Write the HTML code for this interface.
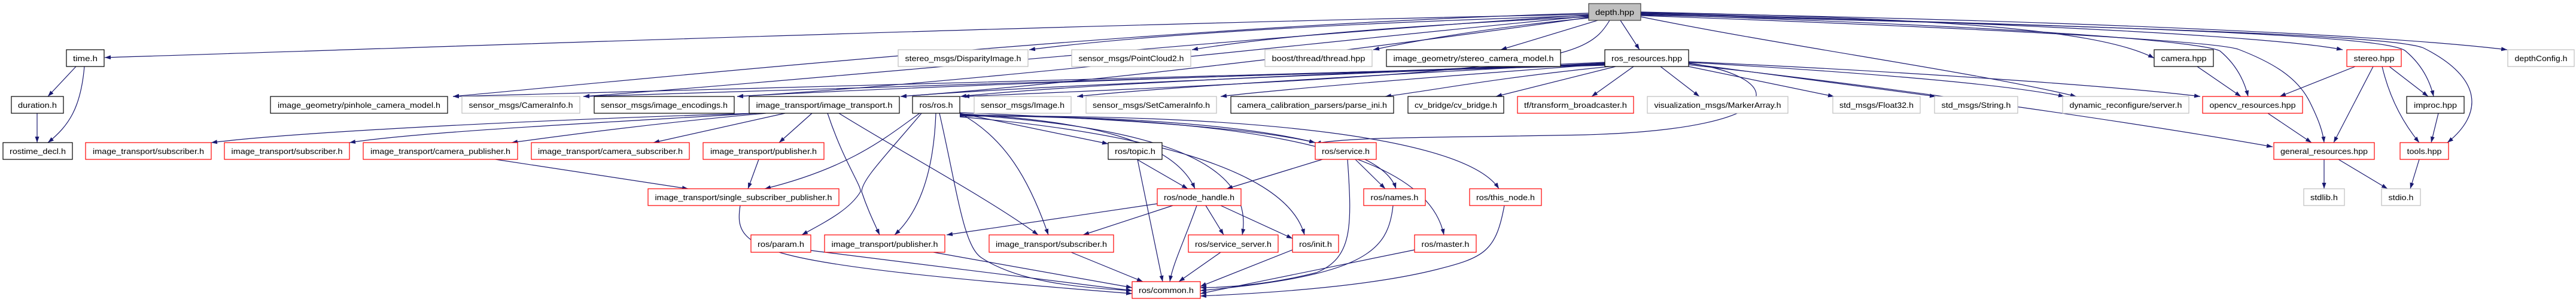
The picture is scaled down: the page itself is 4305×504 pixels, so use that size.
<!DOCTYPE html>
<html><head><meta charset="utf-8"><style>
html,body{margin:0;padding:0;background:#fff;}
svg{display:block;}
text{font-family:"Liberation Sans",sans-serif;font-size:12.5px;fill:#000;}
.e{fill:none;stroke:#191970;stroke-width:1.2;marker-end:url(#a);}
.k{fill:#fff;stroke:#000;stroke-width:1.2;}
.r{fill:#fff;stroke:#ff0000;stroke-width:1.2;}
.g{fill:#fff;stroke:#bfbfbf;stroke-width:1.2;}
</style></head><body>
<svg width="4305" height="504" viewBox="0 0 4305 504" xmlns="http://www.w3.org/2000/svg">
<defs><marker id="a" markerUnits="userSpaceOnUse" markerWidth="11" markerHeight="8" refX="10" refY="3.5" orient="auto"><path d="M0,0 L10,3.5 L0,7 z" fill="#191970"/></marker></defs>
<g>
<path class="e" d="M2655 24 C1800 40 700 80 175 96"/>
<path class="e" d="M2655 26 C2200 40 1900 60 1720 83"/>
<path class="e" d="M2655 28 C2300 45 2100 65 1992 83"/>
<path class="e" d="M2655 30 C2500 45 2380 65 2295 83"/>
<path class="e" d="M2670 34 L2508 83"/>
<path class="e" d="M2708 34 L2740 83"/>
<path class="e" d="M2655 22 C2000 40 1200 120 757 161"/>
<path class="e" d="M2655 25 C2100 60 1400 130 975 161"/>
<path class="e" d="M2655 27 C2200 70 1600 140 1232 161"/>
<path class="e" d="M2655 29 C2300 80 1800 140 1505 161"/>
<path class="e" d="M2690 34 C2650 100 2600 120 1610 161"/>
<path class="e" d="M2742 20 C3200 30 3500 45 3600 97"/>
<path class="e" d="M2742 22 C3300 35 3800 60 3915 83"/>
<path class="e" d="M2742 21 C3500 35 4000 60 4190 83"/>
<path class="e" d="M2742 28 C3000 80 3300 120 3470 161"/>
<path class="e" d="M2742 24 C3400 45 3680 70 3710 85 C3740 110 3752 140 3757 161"/>
<path class="e" d="M2742 26 C3400 50 3700 70 3740 82 C3800 105 3840 130 3860 170 C3875 200 3882 220 3884 238"/>
<path class="e" d="M2742 23 C3600 45 3990 60 4020 85 C4050 110 4062 140 4067 161"/>
<path class="e" d="M2742 25 C3600 45 4000 60 4050 80 C4150 130 4150 190 4090 238"/>
<path class="e" d="M2682 104 C2300 120 1800 140 1605 161"/>
<path class="e" d="M2682 106 C2200 125 1700 145 1505 161"/>
<path class="e" d="M2682 107 C2100 125 1500 145 1232 161"/>
<path class="e" d="M2682 108 C2000 128 1300 148 975 161"/>
<path class="e" d="M2682 109 C1900 130 1100 150 757 161"/>
<path class="e" d="M2682 105 C2300 125 1950 145 1800 161"/>
<path class="e" d="M2682 107 C2400 128 2150 148 2040 161"/>
<path class="e" d="M2690 111 C2500 130 2400 150 2315 161"/>
<path class="e" d="M2700 111 L2500 161"/>
<path class="e" d="M2730 111 L2660 161"/>
<path class="e" d="M2775 111 L2840 161"/>
<path class="e" d="M2822 111 L3065 161"/>
<path class="e" d="M2822 106 L3235 161"/>
<path class="e" d="M2822 104 C3100 120 3350 140 3450 161"/>
<path class="e" d="M2822 103 C3200 120 3550 145 3677 161"/>
<path class="e" d="M2822 108 C3200 150 3600 210 3798 245"/>
<path class="e" d="M2822 105 C2990 130 3000 215 2650 225 C2400 230 2250 228 2198 240"/>
<path class="e" d="M1262 189 C900 200 500 220 353 238"/>
<path class="e" d="M1266 189 C1000 205 700 220 584 238"/>
<path class="e" d="M1280 189 C1100 205 950 225 855 238"/>
<path class="e" d="M1312 189 L1092 238"/>
<path class="e" d="M1357 189 L1302 238"/>
<path class="e" d="M1383 189 C1410 270 1440 310 1438 320 C1420 350 1380 370 1340 392"/>
<path class="e" d="M1402 189 C1500 250 1650 330 1735 392"/>
<path class="e" d="M828 266 L1150 315"/>
<path class="e" d="M1268 266 L1250 315"/>
<path class="e" d="M1237 343 C1225 420 1260 440 1892 490"/>
<path class="e" d="M1537 189 C1480 230 1420 280 1278 315"/>
<path class="e" d="M1540 189 C1480 260 1440 300 1440 320 C1450 350 1460 370 1470 392"/>
<path class="e" d="M1564 189 C1560 300 1530 360 1495 392"/>
<path class="e" d="M1604 189 C1680 230 1720 300 1752 392"/>
<path class="e" d="M1570 189 C1600 320 1610 410 1640 430 C1700 470 1800 480 1892 485"/>
<path class="e" d="M1604 189 L1852 240"/>
<path class="e" d="M1604 190 C1800 200 1960 230 1997 315"/>
<path class="e" d="M1604 191 C1900 210 2100 260 2076 392"/>
<path class="e" d="M1604 188 C1900 200 2100 215 2198 238"/>
<path class="e" d="M1604 192 C1900 195 2300 210 2333 315"/>
<path class="e" d="M1604 193 C2000 195 2380 230 2413 392"/>
<path class="e" d="M1604 194 C2100 190 2450 230 2505 315"/>
<path class="e" d="M1604 195 C1900 220 2150 280 2180 392"/>
<path class="e" d="M1900 266 L1985 315"/>
<path class="e" d="M1901 266 L1943 470"/>
<path class="e" d="M1934 340 L1582 392"/>
<path class="e" d="M1960 343 L1810 392"/>
<path class="e" d="M2000 343 C1980 400 1960 440 1955 470"/>
<path class="e" d="M2015 343 L2045 392"/>
<path class="e" d="M2040 343 L2160 398"/>
<path class="e" d="M2210 266 L2050 315"/>
<path class="e" d="M2265 266 L2315 315"/>
<path class="e" d="M2252 266 C2260 380 2260 430 2200 455 C2120 475 2050 480 2006 480"/>
<path class="e" d="M2328 343 C2320 420 2280 460 2006 485"/>
<path class="e" d="M2364 417 L2006 490"/>
<path class="e" d="M2514 343 C2500 420 2480 430 2400 450 C2300 475 2150 488 2006 494"/>
<path class="e" d="M2165 415 L2006 478"/>
<path class="e" d="M2040 421 L1970 470"/>
<path class="e" d="M1355 418 L1892 485"/>
<path class="e" d="M1560 421 L1892 480"/>
<path class="e" d="M1790 421 L1910 470"/>
<path class="e" d="M127 111 L80 161"/>
<path class="e" d="M141 111 C135 180 115 210 80 238"/>
<path class="e" d="M62 189 L62 238"/>
<path class="e" d="M3672 111 L3745 161"/>
<path class="e" d="M3936 111 L3810 161"/>
<path class="e" d="M3966 111 L3900 238"/>
<path class="e" d="M3981 111 C3995 170 4020 210 4043 238"/>
<path class="e" d="M3993 111 L4058 161"/>
<path class="e" d="M4075 189 L4063 238"/>
<path class="e" d="M3790 189 L3863 238"/>
<path class="e" d="M3884 266 L3884 315"/>
<path class="e" d="M3908 266 L3990 315"/>
<path class="e" d="M4043 266 L4028 315"/>
</g>
<g>
<rect x="2655" y="6" width="87" height="28" fill="#bfbfbf" stroke="#404040" stroke-width="1.2"/><text x="2698.5" y="25" text-anchor="middle" textLength="65" lengthAdjust="spacingAndGlyphs">depth.hpp</text>
<rect class="k" x="111" y="83" width="63" height="28"/><text x="142.5" y="102" text-anchor="middle" textLength="41" lengthAdjust="spacingAndGlyphs">time.h</text>
<rect class="k" x="19" y="161" width="87" height="28"/><text x="62.5" y="180" text-anchor="middle" textLength="65" lengthAdjust="spacingAndGlyphs">duration.h</text>
<rect class="k" x="5" y="238" width="116" height="28"/><text x="63" y="257" text-anchor="middle" textLength="94" lengthAdjust="spacingAndGlyphs">rostime_decl.h</text>
<rect class="k" x="452" y="161" width="296" height="28"/><text x="600" y="180" text-anchor="middle" textLength="272" lengthAdjust="spacingAndGlyphs">image_geometry/pinhole_camera_model.h</text>
<rect class="r" x="143" y="238" width="210" height="28"/><text x="248" y="257" text-anchor="middle" textLength="186" lengthAdjust="spacingAndGlyphs">image_transport/subscriber.h</text>
<rect class="r" x="375" y="238" width="209" height="28"/><text x="479.5" y="257" text-anchor="middle" textLength="186" lengthAdjust="spacingAndGlyphs">image_transport/subscriber.h</text>
<rect class="r" x="607" y="238" width="258" height="28"/><text x="736" y="257" text-anchor="middle" textLength="234" lengthAdjust="spacingAndGlyphs">image_transport/camera_publisher.h</text>
<rect class="g" x="772" y="161" width="197" height="28"/><text x="870.5" y="180" text-anchor="middle" textLength="174" lengthAdjust="spacingAndGlyphs">sensor_msgs/CameraInfo.h</text>
<rect class="k" x="993" y="161" width="234" height="28"/><text x="1110" y="180" text-anchor="middle" textLength="212" lengthAdjust="spacingAndGlyphs">sensor_msgs/image_encodings.h</text>
<rect class="k" x="1252" y="161" width="251" height="28"/><text x="1377.5" y="180" text-anchor="middle" textLength="228" lengthAdjust="spacingAndGlyphs">image_transport/image_transport.h</text>
<rect class="r" x="888" y="238" width="264" height="28"/><text x="1020" y="257" text-anchor="middle" textLength="242" lengthAdjust="spacingAndGlyphs">image_transport/camera_subscriber.h</text>
<rect class="r" x="1175" y="238" width="202" height="28"/><text x="1276" y="257" text-anchor="middle" textLength="178" lengthAdjust="spacingAndGlyphs">image_transport/publisher.h</text>
<rect class="r" x="1083" y="315" width="319" height="28"/><text x="1242.5" y="334" text-anchor="middle" textLength="296" lengthAdjust="spacingAndGlyphs">image_transport/single_subscriber_publisher.h</text>
<rect class="r" x="1255" y="392" width="100" height="29"/><text x="1305" y="412" text-anchor="middle" textLength="78" lengthAdjust="spacingAndGlyphs">ros/param.h</text>
<rect class="r" x="1378" y="392" width="201" height="29"/><text x="1478.5" y="412" text-anchor="middle" textLength="178" lengthAdjust="spacingAndGlyphs">image_transport/publisher.h</text>
<rect class="g" x="1501" y="83" width="217" height="28"/><text x="1609.5" y="102" text-anchor="middle" textLength="194" lengthAdjust="spacingAndGlyphs">stereo_msgs/DisparityImage.h</text>
<rect class="g" x="1791" y="83" width="199" height="28"/><text x="1890.5" y="102" text-anchor="middle" textLength="176" lengthAdjust="spacingAndGlyphs">sensor_msgs/PointCloud2.h</text>
<rect class="g" x="2114" y="83" width="179" height="28"/><text x="2203.5" y="102" text-anchor="middle" textLength="156" lengthAdjust="spacingAndGlyphs">boost/thread/thread.hpp</text>
<rect class="k" x="1525" y="161" width="79" height="28"/><text x="1564.5" y="180" text-anchor="middle" textLength="56" lengthAdjust="spacingAndGlyphs">ros/ros.h</text>
<rect class="g" x="1628" y="161" width="162" height="28"/><text x="1709" y="180" text-anchor="middle" textLength="140" lengthAdjust="spacingAndGlyphs">sensor_msgs/Image.h</text>
<rect class="g" x="1815" y="161" width="218" height="28"/><text x="1924" y="180" text-anchor="middle" textLength="196" lengthAdjust="spacingAndGlyphs">sensor_msgs/SetCameraInfo.h</text>
<rect class="k" x="2057" y="161" width="272" height="28"/><text x="2193" y="180" text-anchor="middle" textLength="250" lengthAdjust="spacingAndGlyphs">camera_calibration_parsers/parse_ini.h</text>
<rect class="k" x="1852" y="238" width="90" height="28"/><text x="1897" y="257" text-anchor="middle" textLength="68" lengthAdjust="spacingAndGlyphs">ros/topic.h</text>
<rect class="r" x="1934" y="315" width="140" height="28"/><text x="2004" y="334" text-anchor="middle" textLength="118" lengthAdjust="spacingAndGlyphs">ros/node_handle.h</text>
<rect class="r" x="1653" y="392" width="208" height="29"/><text x="1757" y="412" text-anchor="middle" textLength="186" lengthAdjust="spacingAndGlyphs">image_transport/subscriber.h</text>
<rect class="r" x="1986" y="392" width="150" height="29"/><text x="2061" y="412" text-anchor="middle" textLength="128" lengthAdjust="spacingAndGlyphs">ros/service_server.h</text>
<rect class="r" x="2160" y="392" width="77" height="29"/><text x="2198.5" y="412" text-anchor="middle" textLength="55" lengthAdjust="spacingAndGlyphs">ros/init.h</text>
<rect class="r" x="1892" y="470" width="114" height="28"/><text x="1949" y="489" text-anchor="middle" textLength="92" lengthAdjust="spacingAndGlyphs">ros/common.h</text>
<rect class="k" x="2317" y="83" width="291" height="28"/><text x="2462.5" y="102" text-anchor="middle" textLength="268" lengthAdjust="spacingAndGlyphs">image_geometry/stereo_camera_model.h</text>
<rect class="k" x="2682" y="83" width="140" height="28"/><text x="2752" y="102" text-anchor="middle" textLength="118" lengthAdjust="spacingAndGlyphs">ros_resources.hpp</text>
<rect class="k" x="2353" y="161" width="160" height="28"/><text x="2433" y="180" text-anchor="middle" textLength="138" lengthAdjust="spacingAndGlyphs">cv_bridge/cv_bridge.h</text>
<rect class="r" x="2536" y="161" width="194" height="28"/><text x="2633" y="180" text-anchor="middle" textLength="172" lengthAdjust="spacingAndGlyphs">tf/transform_broadcaster.h</text>
<rect class="g" x="2753" y="161" width="235" height="28"/><text x="2870.5" y="180" text-anchor="middle" textLength="212" lengthAdjust="spacingAndGlyphs">visualization_msgs/MarkerArray.h</text>
<rect class="r" x="2198" y="238" width="102" height="28"/><text x="2249" y="257" text-anchor="middle" textLength="80" lengthAdjust="spacingAndGlyphs">ros/service.h</text>
<rect class="r" x="2279" y="315" width="103" height="28"/><text x="2330.5" y="334" text-anchor="middle" textLength="80" lengthAdjust="spacingAndGlyphs">ros/names.h</text>
<rect class="r" x="2456" y="315" width="120" height="28"/><text x="2516" y="334" text-anchor="middle" textLength="98" lengthAdjust="spacingAndGlyphs">ros/this_node.h</text>
<rect class="r" x="2364" y="392" width="103" height="29"/><text x="2415.5" y="412" text-anchor="middle" textLength="80" lengthAdjust="spacingAndGlyphs">ros/master.h</text>
<rect class="g" x="3063" y="161" width="146" height="28"/><text x="3136" y="180" text-anchor="middle" textLength="124" lengthAdjust="spacingAndGlyphs">std_msgs/Float32.h</text>
<rect class="g" x="3233" y="161" width="139" height="28"/><text x="3302.5" y="180" text-anchor="middle" textLength="116" lengthAdjust="spacingAndGlyphs">std_msgs/String.h</text>
<rect class="g" x="3447" y="161" width="211" height="28"/><text x="3552.5" y="180" text-anchor="middle" textLength="188" lengthAdjust="spacingAndGlyphs">dynamic_reconfigure/server.h</text>
<rect class="k" x="3600" y="83" width="99" height="28"/><text x="3649.5" y="102" text-anchor="middle" textLength="76" lengthAdjust="spacingAndGlyphs">camera.hpp</text>
<rect class="r" x="3922" y="83" width="91" height="28"/><text x="3967.5" y="102" text-anchor="middle" textLength="68" lengthAdjust="spacingAndGlyphs">stereo.hpp</text>
<rect class="g" x="4191" y="83" width="111" height="28"/><text x="4246.5" y="102" text-anchor="middle" textLength="88" lengthAdjust="spacingAndGlyphs">depthConfig.h</text>
<rect class="r" x="3681" y="161" width="167" height="28"/><text x="3764.5" y="180" text-anchor="middle" textLength="144" lengthAdjust="spacingAndGlyphs">opencv_resources.hpp</text>
<rect class="k" x="4022" y="161" width="96" height="28"/><text x="4070" y="180" text-anchor="middle" textLength="72" lengthAdjust="spacingAndGlyphs">improc.hpp</text>
<rect class="r" x="3800" y="238" width="168" height="28"/><text x="3884" y="257" text-anchor="middle" textLength="146" lengthAdjust="spacingAndGlyphs">general_resources.hpp</text>
<rect class="r" x="4011" y="238" width="81" height="28"/><text x="4051.5" y="257" text-anchor="middle" textLength="58" lengthAdjust="spacingAndGlyphs">tools.hpp</text>
<rect class="g" x="3850" y="315" width="68" height="28"/><text x="3884" y="334" text-anchor="middle" textLength="46" lengthAdjust="spacingAndGlyphs">stdlib.h</text>
<rect class="g" x="3980" y="315" width="65" height="28"/><text x="4012.5" y="334" text-anchor="middle" textLength="42" lengthAdjust="spacingAndGlyphs">stdio.h</text>
</g>
</svg>
</body></html>
